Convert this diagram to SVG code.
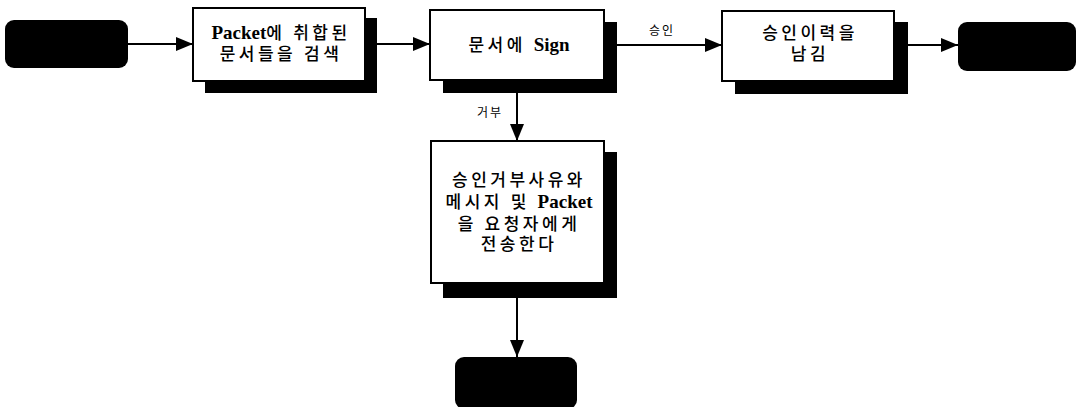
<svg xmlns="http://www.w3.org/2000/svg" width="1081" height="407" viewBox="0 0 1081 407">
<style>
.term{fill:#000}
.shadow{fill:#000}
.box{fill:#fff;stroke:#000;stroke-width:2}
.t{font-family:"Liberation Serif","Noto Sans CJK KR",sans-serif;font-size:17px;font-weight:500;letter-spacing:3.5px;fill:#000;text-anchor:middle}
.lat{font-weight:bold;font-size:19px;letter-spacing:0}
.lbl{font-family:"Liberation Serif","Noto Sans CJK KR",sans-serif;font-size:12px;letter-spacing:2px;fill:#000;text-anchor:middle}
.conn{stroke:#000;stroke-width:2;fill:none}
</style>
<defs>
<marker id="ah" markerUnits="userSpaceOnUse" markerWidth="18" markerHeight="16" refX="17" refY="8" orient="auto">
<path d="M0,1 L17,8 L0,15 Z" fill="#000"/>
</marker>
</defs>
<g id="start"><rect class="term" x="5" y="20" width="123" height="48" rx="9"/></g>
<g id="search">
<rect class="shadow" x="205" y="18" width="172" height="75"/>
<rect class="box" x="193" y="8" width="172" height="73"/>
<text class="t" x="281" y="39"><tspan class="lat">Packet</tspan>에 취합된</text>
<text class="t" x="281" y="60">문서들을 검색</text>
</g>
<g id="sign">
<rect class="shadow" x="443" y="22" width="174" height="71"/>
<rect class="box" x="430" y="10" width="174" height="70"/>
<text class="t" x="519" y="51">문서에 <tspan class="lat">Sign</tspan></text>
</g>
<g id="history">
<rect class="shadow" x="735" y="22" width="173" height="72"/>
<rect class="box" x="722" y="11" width="172" height="70"/>
<text class="t" x="810" y="39">승인이력을</text>
<text class="t" x="810" y="60">남김</text>
</g>
<g id="end1"><rect class="term" x="958" y="22" width="118" height="49" rx="9"/></g>
<g id="reject">
<rect class="shadow" x="443" y="152" width="174" height="146"/>
<rect class="box" x="431" y="141" width="173" height="142"/>
<text class="t" x="519" y="186">승인거부사유와</text>
<text class="t" x="519" y="208">메시지 및 <tspan class="lat">Packet</tspan></text>
<text class="t" x="519" y="230">을 요청자에게</text>
<text class="t" x="519" y="250">전송한다</text>
</g>
<g id="end2"><rect class="term" x="455" y="357" width="122" height="52" rx="9"/></g>
<g id="connectors">
<line class="conn" x1="128" y1="44" x2="193" y2="44" marker-end="url(#ah)"/>
<line class="conn" x1="377" y1="44" x2="430" y2="44" marker-end="url(#ah)"/>
<line class="conn" x1="617" y1="45" x2="722" y2="45" marker-end="url(#ah)"/>
<line class="conn" x1="908" y1="45" x2="958" y2="45" marker-end="url(#ah)"/>
<line class="conn" x1="517" y1="93" x2="517" y2="141" marker-end="url(#ah)"/>
<line class="conn" x1="517" y1="298" x2="517" y2="357" marker-end="url(#ah)"/>
<text class="lbl" x="662" y="35">승인</text>
<text class="lbl" x="490" y="117">거부</text>
</g>
</svg>
